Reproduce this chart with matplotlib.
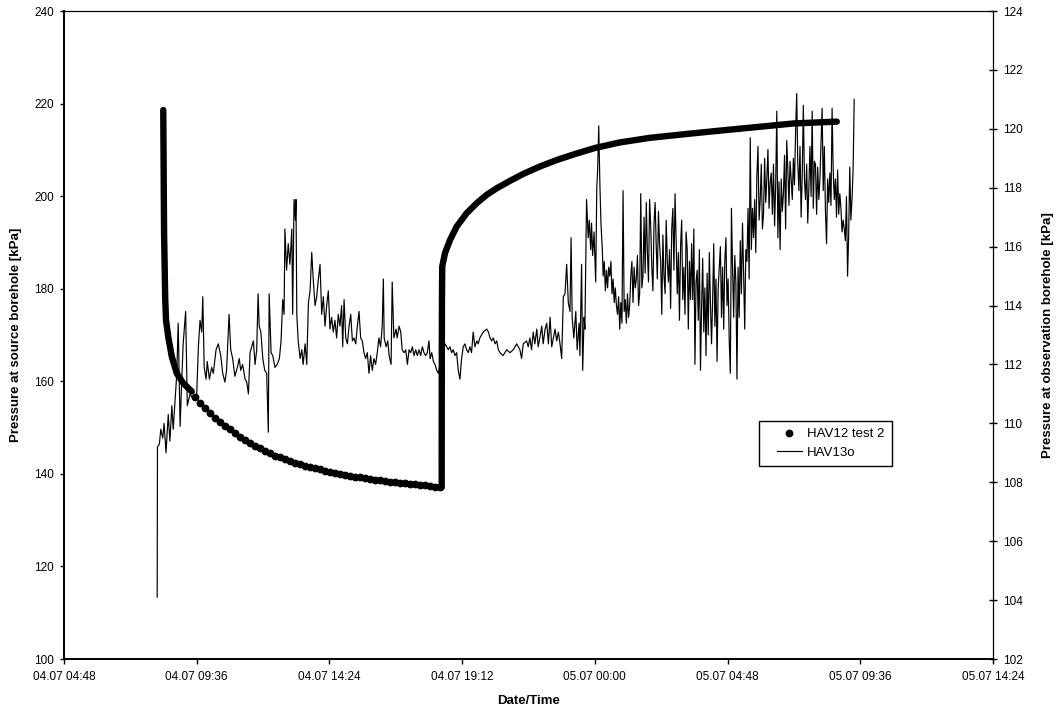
#!/usr/bin/env python

import matplotlib

matplotlib.use("Agg")
import matplotlib.dates as mdates
import matplotlib.pyplot as plt
import numpy as np
import pandas as pd
from matplotlib.legend_handler import HandlerLine2D
from matplotlib.lines import Line2D

plt.rcParams["font.family"] = ["Liberation Sans", "DejaVu Sans"]

# all times in hours after 04.07 04:48
t0 = pd.Timestamp("2004-07-04 04:48")
tick_step_min = 288
n_ticks = 8

# HAV12 test 2 (source borehole, left axis) - fast logging at start of drawdown
hav12_early_h = [3.59, 3.60, 3.61, 3.62, 3.64, 3.66, 3.69, 3.77, 3.90, 4.08, 4.31, 4.62]
hav12_early_p = [218.6, 210.0, 200.0, 192.0, 185.0, 178.0, 173.2, 169.6, 165.3, 161.7, 159.6, 157.8]

# slow logging part of drawdown
hav12_slow_start_h = 4.74
hav12_slow_step_h = 0.1808
hav12_slow_p = [
    156.7, 155.4, 154.2, 153.1, 152.0, 151.3, 150.4, 149.6, 148.8, 148.0,
    147.3, 146.6, 146.0, 145.5, 145.0, 144.4, 143.9, 143.6, 143.2, 142.8,
    142.4, 142.1, 141.8, 141.5, 141.2, 141.0, 140.7, 140.4, 140.2, 140.0,
    139.8, 139.5, 139.4, 139.3, 139.0, 138.9, 138.7, 138.6, 138.4, 138.3,
    138.2, 138.1, 138.0, 137.8, 137.75, 137.7, 137.5, 137.45, 137.2, 137.1,
]

# recovery, fast logging
hav12_rec_h = [13.66, 13.662, 13.665, 13.67, 13.68, 13.78, 13.96, 14.20, 14.56, 14.93,
               15.29, 15.65, 16.13, 16.61, 17.21, 17.82, 18.48, 19.20, 20.10, 21.19,
               22.63, 23.97, 25.18, 26.38, 27.95]
hav12_rec_p = [137.1, 151.6, 166.8, 177.6, 184.8, 187.7, 190.5, 193.4, 196.3, 198.5,
               200.3, 201.7, 203.3, 204.8, 206.4, 207.8, 209.1, 210.4, 211.6, 212.6,
               213.5, 214.3, 215.0, 215.7, 216.1]

# HAV13o (observation borehole, right axis), irregular readings up to 19.47 h
hav13_h = [
    3.37, 3.38, 3.45, 3.50, 3.57, 3.62, 3.69, 3.77, 3.83, 3.90,
    3.95, 4.01, 4.08, 4.13, 4.20, 4.26, 4.31, 4.40, 4.46, 4.56,
    4.68, 4.80, 4.86, 4.92, 4.98, 5.02, 5.07, 5.14, 5.18, 5.26,
    5.34, 5.40, 5.50, 5.58, 5.67, 5.74, 5.82, 5.88, 5.97, 6.03,
    6.10, 6.18, 6.27, 6.34, 6.39, 6.46, 6.55, 6.61, 6.67, 6.73,
    6.79, 6.85, 6.91, 6.97, 7.02, 7.06, 7.12, 7.19, 7.26, 7.33,
    7.39, 7.42, 7.49, 7.55, 7.63, 7.71, 7.79, 7.85, 7.91, 7.96,
    7.99, 8.05, 8.11, 8.17, 8.24, 8.27, 8.32, 8.37, 8.39, 8.42,
    8.47, 8.54, 8.60, 8.65, 8.72, 8.78, 8.84, 8.90, 8.96, 9.02,
    9.08, 9.14, 9.20, 9.26, 9.32, 9.38, 9.44, 9.50, 9.56, 9.62,
    9.68, 9.74, 9.80, 9.86, 9.92, 9.98, 10.04, 10.08, 10.13, 10.19,
    10.25, 10.31, 10.37, 10.43, 10.49, 10.55, 10.61, 10.67, 10.73, 10.79,
    10.85, 10.91, 10.97, 11.03, 11.09, 11.15, 11.21, 11.27, 11.33, 11.39,
    11.45, 11.51, 11.55, 11.58, 11.65, 11.71, 11.76, 11.83, 11.87, 11.93,
    12.01, 12.05, 12.12, 12.18, 12.23, 12.30, 12.36, 12.42, 12.48, 12.54,
    12.60, 12.66, 12.72, 12.78, 12.84, 12.90, 12.96, 13.02, 13.08, 13.14,
    13.20, 13.24, 13.30, 13.36, 13.42, 13.48, 13.54, 13.66, 13.78, 13.84,
    13.90, 13.96, 14.02, 14.08, 14.14, 14.20, 14.26, 14.32, 14.38, 14.44,
    14.50, 14.56, 14.62, 14.68, 14.74, 14.80, 14.86, 14.93, 14.98, 15.04,
    15.16, 15.29, 15.35, 15.41, 15.47, 15.53, 15.59, 15.65, 15.71, 15.77,
    15.88, 16.01, 16.13, 16.25, 16.37, 16.49, 16.55, 16.61, 16.73, 16.79,
    16.85, 16.91, 16.97, 17.03, 17.10, 17.15, 17.21, 17.28, 17.33, 17.40,
    17.46, 17.52, 17.58, 17.64, 17.70, 17.76, 17.82, 17.88, 17.94, 18.00,
    18.06, 18.12, 18.18, 18.24, 18.30, 18.34, 18.38, 18.44, 18.51, 18.56,
    18.63, 18.66, 18.72, 18.76, 18.81, 18.84, 18.90, 18.96, 19.00, 19.05,
    19.08, 19.12, 19.17, 19.23, 19.27, 19.30, 19.34, 19.38, 19.42, 19.47,
]
hav13_p = [
    104.1, 109.2, 109.3, 109.8, 109.5, 110.0, 109.0, 110.3, 109.4, 110.6,
    109.8, 110.7, 111.7, 113.4, 109.9, 111.5, 112.7, 113.8, 110.6, 111.0,
    110.8, 111.0, 112.6, 113.5, 113.1, 114.3, 111.9, 111.5, 112.1, 111.5,
    111.9, 111.7, 112.5, 112.7, 112.3, 111.7, 111.4, 111.8, 113.7, 112.5,
    112.2, 111.6, 111.9, 112.2, 111.8, 112.0, 111.5, 111.4, 111.0, 112.4,
    112.6, 112.8, 112.0, 112.5, 114.4, 113.3, 113.1, 112.2, 111.8, 111.7,
    109.7, 114.4, 112.4, 112.3, 111.9, 112.0, 112.2, 112.8, 114.2, 113.7,
    116.6, 115.2, 116.1, 115.4, 116.6, 113.7, 117.6, 116.9, 117.6, 113.7,
    112.8, 112.2, 112.5, 112.0, 112.7, 112.0, 114.1, 114.5, 115.8, 114.8,
    114.0, 114.3, 114.9, 115.4, 113.7, 114.3, 113.3, 114.0, 114.5, 113.2,
    113.6, 113.1, 113.5, 112.9, 113.7, 113.3, 114.0, 112.6, 114.2, 112.9,
    112.7, 113.3, 113.7, 112.8, 112.9, 112.7, 113.3, 113.8, 112.9, 112.8,
    112.4, 112.2, 112.4, 111.7, 112.3, 111.8, 112.2, 112.0, 112.4, 112.9,
    112.6, 113.3, 114.9, 112.9, 112.6, 112.8, 112.3, 112.0, 114.8, 112.9,
    113.2, 112.9, 113.3, 113.1, 112.5, 112.4, 112.5, 112.0, 112.5, 112.4,
    112.6, 112.3, 112.5, 112.3, 112.5, 112.3, 112.6, 112.4, 112.3, 112.4,
    112.8, 112.2, 112.4, 112.1, 112.0, 111.8, 111.7, 112.3, 112.7, 112.6,
    112.5, 112.6, 112.4, 112.5, 112.3, 112.4, 111.8, 111.5, 112.2, 112.6,
    112.7, 112.5, 112.4, 112.6, 112.4, 113.1, 112.6, 112.8, 112.7, 112.9,
    113.1, 113.2, 113.1, 112.9, 112.8, 112.9, 112.7, 112.8, 112.5, 112.4,
    112.3, 112.5, 112.4, 112.5, 112.7, 112.5, 112.2, 112.7, 112.8, 112.6,
    112.9, 112.5, 113.1, 112.7, 113.2, 112.6, 112.9, 113.3, 112.7, 113.2,
    113.4, 112.7, 113.6, 112.6, 112.9, 113.2, 112.8, 113.1, 112.7, 112.2,
    114.3, 114.4, 115.4, 114.1, 113.8, 116.3, 113.6, 112.9, 113.8, 112.5,
    113.4, 112.3, 115.4, 111.8, 113.6, 113.2, 117.6, 116.3, 116.9, 115.9,
    116.8, 115.7, 116.5, 114.8, 118.0, 118.6, 120.1, 118.2, 116.8, 115.9,
]

# HAV13o from 19.50 h the logger reads every 0.04 h
hav13_dense_start_h = 19.50
hav13_dense_step_h = 0.04
hav13_dense_p = [
    115.0, 115.5, 114.5, 115.2, 114.6, 115.3, 115.0, 115.5, 114.4, 114.9,
    114.1, 114.6, 114.0, 113.7, 114.3, 113.2, 114.1, 113.4, 117.9, 113.8,
    114.2, 113.4, 114.4, 113.6, 114.0, 115.0, 115.5, 114.1, 115.3, 114.6,
    114.9, 115.7, 114.0, 114.4, 117.8, 114.6, 115.0, 117.0, 115.1, 117.5,
    115.8, 114.8, 117.6, 116.7, 115.3, 114.5, 116.8, 117.5, 116.0, 114.9,
    117.2, 116.1, 115.5, 113.7, 116.4, 115.0, 114.4, 116.9, 115.5, 114.8,
    115.9, 113.9, 116.6, 117.3, 115.2, 117.8, 116.2, 114.4, 115.8, 113.5,
    116.0, 116.9, 114.2, 115.3, 113.7, 116.5, 115.9, 113.2, 115.5, 114.2,
    116.1, 114.2, 116.6, 112.0, 114.8, 115.2, 113.5, 115.9, 111.8, 113.9,
    115.6, 113.1, 114.6, 112.3, 115.1, 113.0, 115.8, 114.1, 112.7, 114.2,
    116.1, 113.3, 114.9, 112.1, 114.6, 115.3, 116.0, 113.6, 115.3, 113.2,
    115.5, 116.3, 114.0, 114.9, 112.8, 111.7, 117.3, 115.3, 113.6, 115.7,
    114.8, 111.5, 115.3, 113.6, 116.2, 114.4, 116.8, 115.1, 113.2, 115.9,
    115.5, 117.3, 114.9, 119.7, 115.9, 117.3, 116.3, 117.6, 115.8, 118.4,
    119.4, 116.9, 117.6, 118.8, 116.6, 117.1, 119.0, 117.5, 118.3, 119.3,
    117.3, 118.2, 118.5, 117.1, 118.8, 116.7, 118.1, 120.6, 116.3, 118.2,
    115.9, 118.3, 117.2, 117.8, 119.1, 116.6, 119.6, 118.6, 117.4, 118.9,
    118.3, 117.6, 119.0, 118.1, 119.9, 121.2, 118.8, 117.9, 119.4, 117.0,
    118.4, 120.8, 118.3, 117.6, 118.8, 116.8, 118.0, 119.4, 117.7, 120.6,
    117.3, 118.9, 118.8, 117.1, 118.7, 117.6, 118.3, 119.5, 120.7, 117.9,
    119.4, 117.2, 116.1, 118.3, 117.5, 118.5, 117.4, 120.7, 118.6, 117.6,
    118.3, 117.0, 118.6, 117.1, 117.8, 117.3, 116.5, 116.9, 116.6, 116.2,
    117.7, 115.0, 116.4, 118.7, 116.9, 117.6, 118.6, 121.0,
]

assert len(hav13_h) == len(hav13_p)


def to_time(hours):
    return (t0 + pd.to_timedelta(np.asarray(hours, dtype=float), unit="h")).to_numpy()


slow_h = hav12_slow_start_h + hav12_slow_step_h * np.arange(len(hav12_slow_p))
dense_h = hav13_dense_start_h + hav13_dense_step_h * np.arange(len(hav13_dense_p))
obs_h = np.concatenate([hav13_h, dense_h])
obs_p = np.concatenate([hav13_p, hav13_dense_p])

fig = plt.figure(figsize=(10.57, 7.12), dpi=100)
ax = fig.add_axes([64 / 1057, 1 - 659 / 712, 929 / 1057, 648 / 712])
ax2 = ax.twinx()

thick = dict(color="black", lw=4.6, solid_capstyle="round", solid_joinstyle="round")
ax.plot(to_time(hav12_early_h), hav12_early_p, **thick)
ax.plot(to_time(hav12_rec_h), hav12_rec_p, **thick)
dots, = ax.plot(to_time(slow_h), hav12_slow_p, "o", color="black", ms=4.6,
                mec="black", label="HAV12 test 2")
thin, = ax2.plot(to_time(obs_h), obs_p, color="black", lw=0.85, label="HAV13o")

ax.set_ylim(100, 240)
ax.set_yticks(np.arange(100, 241, 20))
ax2.set_ylim(102, 124)
ax2.set_yticks(np.arange(102, 125, 2))

ticks = [t0 + pd.Timedelta(minutes=tick_step_min * k) for k in range(n_ticks)]
ax.set_xlim(ticks[0], ticks[-1])
ax.set_xticks(ticks)
ax.xaxis.set_major_formatter(mdates.DateFormatter("%d.%m %H:%M"))

ax.tick_params(axis="y", direction="out", length=3, width=1, labelsize=8.5, pad=4)
ax.tick_params(axis="x", direction="out", length=3.5, width=1, labelsize=8.5, pad=5)
ax2.tick_params(axis="y", direction="inout", length=6, width=1, labelsize=8.5, pad=4)

for s in ["left", "bottom"]:
    ax.spines[s].set_linewidth(1.4)
for s in ["right", "top"]:
    ax.spines[s].set_visible(False)
    ax2.spines[s].set_linewidth(0.9)
for s in ["left", "bottom"]:
    ax2.spines[s].set_visible(False)

ax.set_xlabel("Date/Time", fontsize=9.5, fontweight="bold", labelpad=9)
ax.set_ylabel("Pressure at source borehole [kPa]", fontsize=9.5, fontweight="bold", labelpad=9)
ax2.set_ylabel("Pressure at observation borehole [kPa]", fontsize=9.5, fontweight="bold", labelpad=14)

leg = fig.legend(handles=[dots, thin], loc="upper left",
                 bbox_to_anchor=(759 / 1057, 1 - 421 / 712), borderaxespad=0,
                 fancybox=False, edgecolor="black", framealpha=1, fontsize=9.5,
                 borderpad=0.55, labelspacing=0.45, handlelength=2.7,
                 handletextpad=0.4, numpoints=1,
                 handler_map={Line2D: HandlerLine2D(xpad=0.8)})
leg.get_frame().set_linewidth(1.0)

plt.savefig("out.png", dpi=100)
